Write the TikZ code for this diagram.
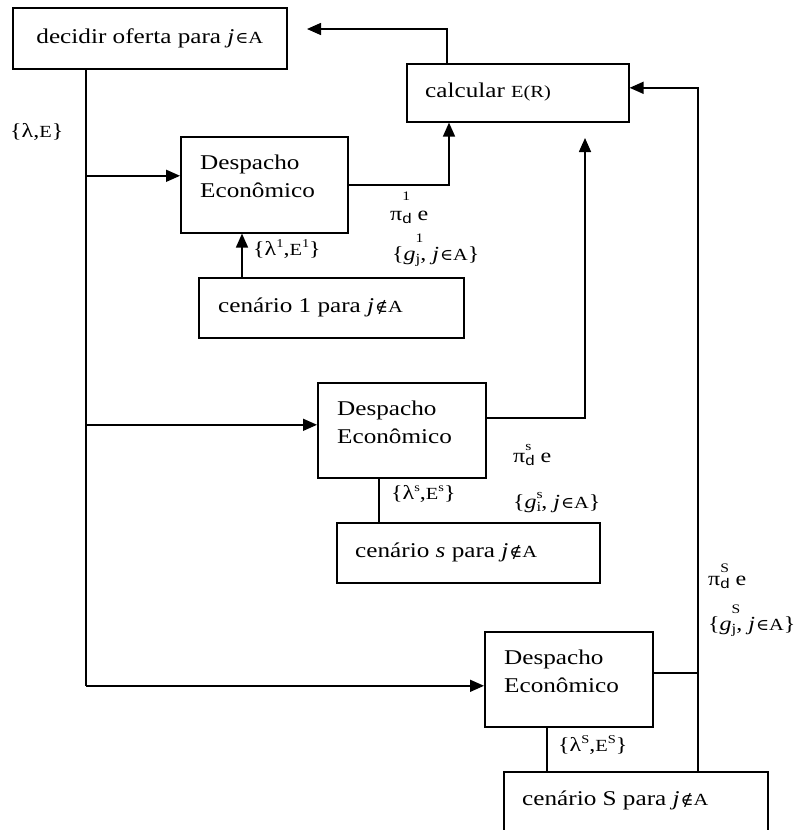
\documentclass[tikz,border=0pt]{standalone}
\usepackage{fontspec}
\setmainfont{Liberation Serif}[FakeStretch=1.2]
\newfontfamily\sansf{Liberation Sans}[FakeStretch=1.2]
\newfontfamily\symf{DejaVu Serif}[FakeStretch=1.1]
\usetikzlibrary{arrows.meta}
\newcommand\smc[1]{{\fontsize{17}{17}\selectfont #1}}
\newcommand\jin{\textit{j}\hspace{1pt}{\symf\fontsize{16}{16}\selectfont ∈}\smc{A}}
\newcommand\jnotin{\textit{j}\hspace{1pt}{\symf\fontsize{16}{16}\selectfont ∉}\smc{A}}
\newcommand\stk[3]{\makebox[0pt][l]{\raisebox{#1}{\fontsize{13}{13}\selectfont #2}}\raisebox{-3pt}{\fontsize{14}{14}\selectfont #3}}
\newcommand\supx[1]{\raisebox{8pt}{\fontsize{12}{12}\selectfont #1}}
\begin{document}
\begin{tikzpicture}[x=1pt,y=-1pt,
  box/.style={draw,line width=1.6pt,inner sep=0pt,anchor=north west},
  txt/.style={inner sep=0pt,anchor=base west,font=\fontsize{21}{28}\selectfont},
  lbl/.style={inner sep=0pt,anchor=base west,font=\fontsize{20}{24}\selectfont},
  line/.style={line width=1.6pt},
  arr/.style={line width=1.6pt,-{Triangle[length=14pt,width=12pt]}}]
\useasboundingbox (0,0) rectangle (805,830);
\clip (0,0) rectangle (805,830);
% boxes
\node[box,minimum width=274pt,minimum height=61pt] (dec) at (12,7) {};
\node[box,minimum width=222pt,minimum height=58pt] (calc) at (406,63) {};
\node[box,minimum width=167pt,minimum height=96pt] (d1) at (180,136) {};
\node[box,minimum width=265pt,minimum height=60pt] (c1) at (198,277) {};
\node[box,minimum width=168pt,minimum height=95pt] (d2) at (317,382) {};
\node[box,minimum width=263pt,minimum height=60pt] (cs) at (336,522) {};
\node[box,minimum width=168pt,minimum height=95pt] (d3) at (484,631) {};
\node[box,minimum width=264pt,minimum height=90pt] (cS) at (503,771) {};
% box texts
\node[txt,anchor=center] (tdec) at (dec.center) {decidir oferta para \jin};
\node[txt] (tcalc) at ([xshift=19pt,yshift=-34pt]calc.north west) {calcular \smc{E(R)}};
\node[txt] (td1a) at ([xshift=20pt,yshift=-33pt]d1.north west) {Despacho};
\node[txt] (td1b) at ([xshift=20pt,yshift=-61pt]d1.north west) {Econômico};
\node[txt] (td2a) at ([xshift=20pt,yshift=-33pt]d2.north west) {Despacho};
\node[txt] (td2b) at ([xshift=20pt,yshift=-61pt]d2.north west) {Econômico};
\node[txt] (td3a) at ([xshift=20pt,yshift=-33pt]d3.north west) {Despacho};
\node[txt] (td3b) at ([xshift=20pt,yshift=-61pt]d3.north west) {Econômico};
\node[txt] (tc1) at ([xshift=20pt,yshift=-35pt]c1.north west) {cenário 1 para \jnotin};
\node[txt] (tcs) at ([xshift=19pt,yshift=-35pt]cs.north west) {cenário \textit{s} para \jnotin};
\node[txt] (tcS) at ([xshift=19pt,yshift=-34pt]cS.north west) {cenário S para \jnotin};
% labels
\node[lbl] (l0) at (10,137) {\{λ,\smc{E}\}};
\node[lbl] (l1) at (253,255) {\{λ\supx{1},\smc{E}\supx{1}\}};
\node[lbl] (p1) at (390,220) {π\stk{20pt}{1}{\sansf d} e};
\node[lbl] (g1) at (392,260) {\{\textit{g}\stk{18pt}{1}{j}, \jin\}};
\node[lbl] (l2) at (391,499) {\{λ\supx{s},\smc{E}\supx{s}\}};
\node[lbl] (p2) at (513,462) {π\stk{12pt}{s}{\sansf d} e};
\node[lbl] (g2) at (513,508) {\{\textit{g}\stk{10pt}{s}{i}, \jin\}};
\node[lbl] (l3) at (558,751) {\{λ\supx{S},\smc{E}\supx{S}\}};
\node[lbl] (p3) at (708,585) {π\stk{13pt}{S}{\sansf d} e};
\node[lbl] (g3) at (708,630) {\{\textit{g}\stk{17pt}{S}{j}, \jin\}};
% coordinates
\path ([xshift=74pt]dec.south west) coordinate (vtop);
\path ([yshift=9pt]d1.west) coordinate (d1in);
\path ([yshift=5.5pt]d2.west) coordinate (d2in);
\path ([yshift=-6.5pt]d3.west) coordinate (d3in);
\path ([xshift=43pt]calc.south west) coordinate (cin1);
\coordinate (t2) at (585,138);
\coordinate (t0) at (307,29);
\path ([xshift=195pt]cS.north west) coordinate (sRt);
\path ([xshift=44pt]c1.north west) coordinate (c1t);
\path ([xshift=43pt]cs.north west) coordinate (cst);
\path ([xshift=44pt]cS.north west) coordinate (cSt);
% connectors
\draw[line] (vtop) -- (vtop |- d3in);
\draw[arr] (vtop |- d1in) -- (d1in);
\draw[arr] (vtop |- d2in) -- (d2in);
\draw[arr] (vtop |- d3in) -- (d3in);
\draw[arr] (d1.east) -| (cin1);
\draw[arr] ([yshift=12.5pt]d2.east) -| (t2);
\draw[arr] ([xshift=41pt]calc.north west) |- (t0);
\draw[arr] (sRt) |- ([yshift=5pt]calc.east);
\draw[line] ([yshift=6.5pt]d3.east) coordinate (d3o) -- (d3o -| sRt);
\draw[arr] (c1t) -- (c1t |- d1.south);
\draw[line] (cst) -- (cst |- d2.south);
\draw[line] (cSt) -- (cSt |- d3.south);
\end{tikzpicture}
\end{document}
